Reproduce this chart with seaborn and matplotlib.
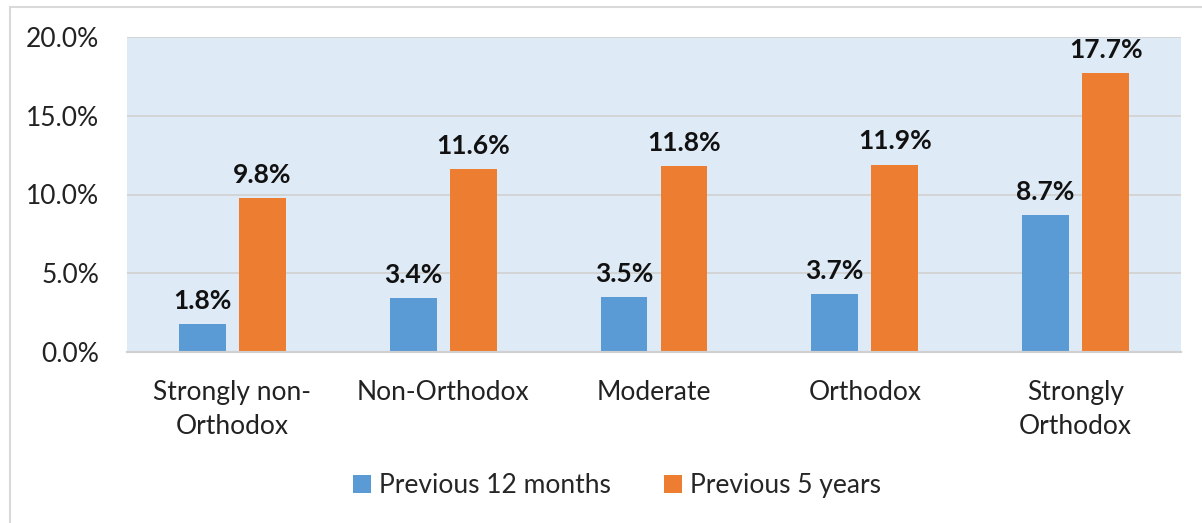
import seaborn as sns
import matplotlib.pyplot as plt
import pandas as pd
from matplotlib.patches import Rectangle

categories = ["Strongly non-\nOrthodox", "Non-Orthodox", "Moderate", "Orthodox", "Strongly\nOrthodox"]
series = ["Previous 12 months", "Previous 5 years"]
prev_12_months = [1.8, 3.4, 3.5, 3.7, 8.7]
prev_5_years = [9.8, 11.6, 11.8, 11.9, 17.7]
y_ticks = [0, 5, 10, 15, 20]

df = pd.DataFrame({
    "category": categories * 2,
    "period": [series[0]] * 5 + [series[1]] * 5,
    "value": prev_12_months + prev_5_years,
})

sns.set_theme(style="white")
plt.rcParams["font.family"] = ["Lato", "DejaVu Sans"]

fig = plt.figure(figsize=(12.02, 5.23), dpi=100)
ax = fig.add_axes([127 / 1202, 1 - 352 / 523, (1181 - 127) / 1202, (352 - 37) / 523])

sns.barplot(data=df, x="category", y="value", hue="period", order=categories,
            hue_order=series, palette=["#5B9BD5", "#ED7D31"], width=0.57, gap=0.22,
            saturation=1, linewidth=0, ax=ax, legend=True)

ax.set_facecolor("#DEEAF6")
ax.set_ylim(0, 20)
ax.set_xlim(-0.5, 4.5)
ax.set_yticks(y_ticks)
ax.set_yticklabels([f"{t:.1f}%" for t in y_ticks], fontsize=19, color="#222222")
ax.tick_params(axis="y", length=0, pad=20)
ax.tick_params(axis="x", length=0, pad=20, labelsize=19, labelcolor="#222222")
for lbl in ax.get_xticklabels():
    lbl.set_linespacing(1.45)
ax.grid(axis="y", color="#D0D0D0", linewidth=1.2)
ax.set_axisbelow(True)
for s in ["top", "right", "left"]:
    ax.spines[s].set_visible(False)
ax.spines["bottom"].set_color("#D0D0D0")
ax.spines["bottom"].set_linewidth(1.5)
ax.set_xlabel("")
ax.set_ylabel("")

for container in ax.containers:
    ax.bar_label(container, labels=[f"{v:.1f}%" for v in container.datavalues],
                 padding=8, fontsize=19, fontweight="bold", color="#111111")

ax.legend(loc="upper center", bbox_to_anchor=(0.465, -0.31), ncol=2, frameon=False,
          fontsize=19, handlelength=0.7, handleheight=0.7, handletextpad=0.3,
          columnspacing=2.0)

fig.patches.append(Rectangle((10 / 1202, -0.1), 1.2, 1 - 7 / 523 + 0.1,
                             transform=fig.transFigure, fill=False,
                             edgecolor="#D9D9D9", linewidth=1.5))

fig.savefig("out.png", dpi=100)
